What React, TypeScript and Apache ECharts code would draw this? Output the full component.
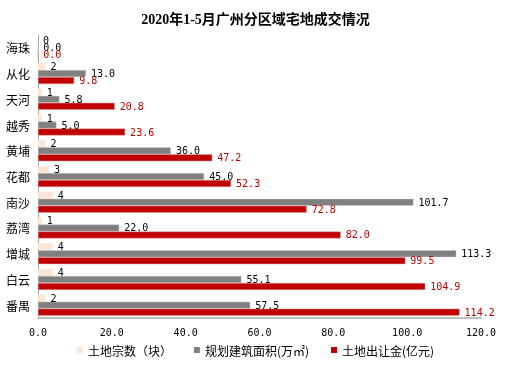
import React, { useEffect, useRef } from "react";
import * as echarts from "echarts";

const categories = ["海珠", "从化", "天河", "越秀", "黄埔", "花都", "南沙", "荔湾", "增城", "白云", "番禺"];
const landCount = [0, 2, 1, 1, 2, 3, 4, 1, 4, 4, 2];
const buildArea = [0, 13.0, 5.8, 5.0, 36.0, 45.0, 101.7, 22.0, 113.3, 55.1, 57.5];
const landFee = [0.0, 9.8, 20.8, 23.6, 47.2, 52.3, 72.8, 82.0, 99.5, 104.9, 114.2];
const seriesNames = ["土地宗数（块）", "规划建筑面积(万㎡)", "土地出让金(亿元)"];
const titleText = "2020年1-5月广州分区域宅地成交情况";

const mono = "'DejaVu Sans Mono', 'Liberation Mono', monospace";
const cjk = "'Noto Sans CJK SC', 'Noto Sans', sans-serif";

export default function App() {
  const ref = useRef<HTMLDivElement>(null);
  useEffect(() => {
    if (!ref.current) return;
    const chart = echarts.init(ref.current, undefined, { renderer: "svg" });
    const labelBase = { show: true, position: "right", distance: 5, fontFamily: mono, fontSize: 10 };
    chart.setOption({
      animation: false,
      title: {
        text: titleText,
        left: "center",
        top: 7,
        textStyle: { fontFamily: "'Liberation Serif', 'Noto Sans CJK SC', serif", fontSize: 14, fontWeight: "bold", color: "#000" },
      },
      legend: {
        bottom: 5,
        left: "center",
        icon: "rect",
        itemWidth: 6,
        itemHeight: 6,
        itemGap: 22,
        itemStyle: { borderWidth: 0 },
        textStyle: { fontFamily: cjk, fontSize: 12, color: "#000" },
        data: seriesNames,
      },
      grid: { left: 38, right: 30, top: 35, bottom: 48 },
      xAxis: {
        type: "value",
        min: 0,
        max: 120,
        interval: 20,
        splitLine: { show: false },
        axisLine: { show: true, lineStyle: { color: "#bfbfbf", width: 2 } },
        axisTick: { show: false },
        axisLabel: { margin: 9, fontFamily: mono, fontSize: 10, color: "#000", formatter: (v: number) => v.toFixed(1) },
      },
      yAxis: {
        type: "category",
        inverse: true,
        data: categories,
        axisLine: { show: true, lineStyle: { color: "#a6a6a6" } },
        axisTick: { show: false },
        axisLabel: { margin: 8, fontFamily: cjk, fontSize: 12, color: "#000" },
      },
      series: [
        {
          name: seriesNames[0],
          type: "bar",
          data: landCount,
          barWidth: 7,
          barGap: "0%",
          itemStyle: { color: "#FCE4D6" },
          label: { ...labelBase, color: "#000", formatter: (p: any) => String(p.value) },
        },
        {
          name: seriesNames[1],
          type: "bar",
          data: buildArea,
          barWidth: 7,
          barGap: "0%",
          itemStyle: { color: "#808080", borderColor: "#c8c8c8", borderWidth: 0.5 },
          label: { ...labelBase, color: "#000", formatter: (p: any) => Number(p.value).toFixed(1) },
        },
        {
          name: seriesNames[2],
          type: "bar",
          data: landFee,
          barWidth: 7,
          barGap: "0%",
          itemStyle: { color: "#C00000", borderColor: "#e6a0a0", borderWidth: 0.5 },
          label: { ...labelBase, color: "#C00000", formatter: (p: any) => Number(p.value).toFixed(1) },
        },
      ],
    });
    return () => chart.dispose();
  }, []);
  return <div ref={ref} style={{ position: "fixed", left: 0, top: 0, width: 511, height: 366 }} />;
}
